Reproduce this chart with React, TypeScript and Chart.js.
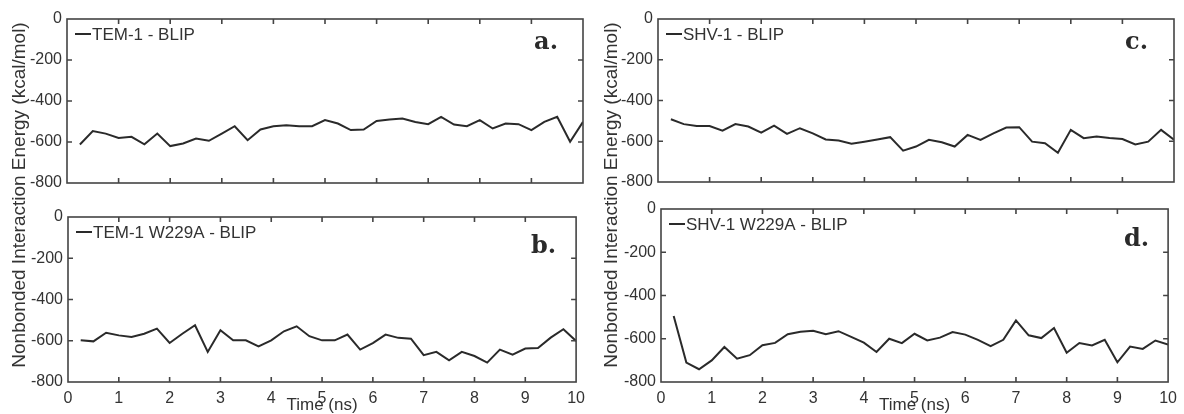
import React, { useEffect, useRef } from "react";
import { Chart, registerables } from "chart.js";

Chart.register(...registerables);

// ---- data ----
const timeNs = [
  0.25, 0.5, 0.75, 1, 1.25, 1.5, 1.75, 2, 2.25, 2.5,
  2.75, 3, 3.25, 3.5, 3.75, 4, 4.25, 4.5, 4.75, 5,
  5.25, 5.5, 5.75, 6, 6.25, 6.5, 6.75, 7, 7.25, 7.5,
  7.75, 8, 8.25, 8.5, 8.75, 9, 9.25, 9.5, 9.75, 10,
];

const tem1Blip = [
  -612, -547, -559, -580, -575, -611, -559, -620, -607, -583,
  -594, -559, -523, -591, -539, -523, -518, -523, -523, -493,
  -510, -542, -539, -497, -490, -485, -502, -513, -477, -515,
  -523, -493, -534, -510, -513, -542, -502, -477, -599, -502,
];

const tem1W229ABlip = [
  -598, -603, -561, -574, -582, -566, -541, -611, -566, -525,
  -654, -549, -598, -598, -627, -598, -554, -530, -578, -598,
  -598, -570, -643, -611, -570, -586, -590, -670, -654, -695,
  -654, -674, -706, -643, -667, -638, -635, -585, -544, -601,
];

const shv1Blip = [
  -492, -516, -525, -525, -548, -516, -528, -558, -523, -564,
  -536, -561, -591, -596, -612, -602, -591, -580, -646, -626,
  -593, -605, -626, -569, -593, -561, -533, -531, -602, -610,
  -657, -544, -585, -577, -584, -589, -616, -602, -544, -593,
];

const shv1W229ABlip = [
  -495, -710, -741, -700, -638, -692, -676, -630, -619, -579,
  -568, -563, -579, -565, -591, -618, -661, -600, -620, -577,
  -608, -595, -569, -581, -605, -634, -605, -515, -584, -597,
  -550, -665, -620, -631, -605, -709, -636, -647, -608, -627,
];

const xTickValues = [0, 1, 2, 3, 4, 5, 6, 7, 8, 9, 10];
const yTickValues = [-800, -600, -400, -200, 0];
const xInnerTicks = [1, 2, 3, 4, 5, 6, 7, 8, 9];
const yInnerTicks = [-600, -400, -200];

const xAxisTitle = "Time (ns)";
const yAxisTitle = "Nonbonded Interaction Energy (kcal/mol)";

// ---- styling / layout ----
const COL_W = 592;
const H = 414;
const SANS = '"Liberation Sans", Arial, sans-serif';
const TEXT = "#333333";
const LINE = "#2a2a2a";
const FRAME = "#444444";

type Area = { left: number; top: number; right: number; bottom: number };
type PanelSpec = {
  key: string;
  colX: number;
  area: Area;
  label: string;
  values: number[];
  showX: boolean;
  letter: string;
  letterDx: number;
  letterDy: number;
  yTitle: boolean;
};

const panels: PanelSpec[] = [
  { key: "b", colX: 0, area: { left: 68, top: 217, right: 579, bottom: 382 }, label: "TEM-1 W229A - BLIP", values: tem1W229ABlip, showX: true, letter: "b.", letterDx: 20, letterDy: 36, yTitle: true },
  { key: "a", colX: 0, area: { left: 67, top: 19, right: 583, bottom: 183 }, label: "TEM-1 - BLIP", values: tem1Blip, showX: false, letter: "a.", letterDx: 25, letterDy: 30, yTitle: false },
  { key: "d", colX: 592, area: { left: 69, top: 209, right: 580, bottom: 382 }, label: "SHV-1 W229A - BLIP", values: shv1W229ABlip, showX: true, letter: "d.", letterDx: 19, letterDy: 37, yTitle: true },
  { key: "c", colX: 592, area: { left: 66, top: 19, right: 582, bottom: 182 }, label: "SHV-1 - BLIP", values: shv1Blip, showX: false, letter: "c.", letterDx: 26, letterDy: 30, yTitle: false },
];

// MATLAB-style box, inward ticks, inline legend and panel letter
const framePlugin = {
  id: "matlabFrame",
  afterDatasetsDraw(chart: any, _args: any, opts: any) {
    const { ctx, chartArea, scales } = chart;
    const { left, top, right, bottom } = chartArea;
    const x = scales.x;
    const y = scales.y;
    const L = 5;
    ctx.save();
    ctx.strokeStyle = FRAME;
    ctx.lineWidth = 1.6;
    ctx.strokeRect(left, top, right - left, bottom - top);
    ctx.beginPath();
    for (const v of xInnerTicks) {
      const px = x.getPixelForValue(v);
      ctx.moveTo(px, bottom);
      ctx.lineTo(px, bottom - L);
      ctx.moveTo(px, top);
      ctx.lineTo(px, top + L);
    }
    for (const v of yInnerTicks) {
      const py = y.getPixelForValue(v);
      ctx.moveTo(left, py);
      ctx.lineTo(left + L, py);
      ctx.moveTo(right, py);
      ctx.lineTo(right - L, py);
    }
    ctx.stroke();

    // legend (inside the axes, top-left)
    const ds = chart.data.datasets[0];
    const lx = left + 8;
    const ly = top + 15;
    ctx.strokeStyle = ds.borderColor;
    ctx.lineWidth = ds.borderWidth;
    ctx.beginPath();
    ctx.moveTo(lx, ly);
    ctx.lineTo(lx + 16, ly);
    ctx.stroke();
    ctx.fillStyle = TEXT;
    ctx.font = `17px ${SANS}`;
    ctx.textAlign = "left";
    ctx.textBaseline = "middle";
    ctx.fillText(ds.label, lx + 17, ly + 1);

    if (opts && opts.letter) {
      ctx.fillStyle = "#2a2a2a";
      ctx.font = 'bold 24px "DejaVu Serif", "Liberation Serif", serif';
      ctx.textAlign = "right";
      ctx.textBaseline = "alphabetic";
      ctx.fillText(opts.letter, right - opts.dx, top + opts.dy);
    }
    ctx.restore();
  },
};

const yTitlePlugin = {
  id: "columnYTitle",
  afterDraw(chart: any, _args: any, opts: any) {
    if (!opts || !opts.show) return;
    const ctx = chart.ctx;
    ctx.save();
    ctx.translate(20, 195);
    ctx.rotate(-Math.PI / 2);
    ctx.font = `19px ${SANS}`;
    ctx.fillStyle = TEXT;
    ctx.textAlign = "center";
    ctx.textBaseline = "middle";
    ctx.fillText(yAxisTitle, 0, 0);
    ctx.restore();
  },
};

function buildConfig(p: PanelSpec): any {
  const area = p.area;
  return {
    type: "line",
    data: {
      datasets: [
        {
          label: p.label,
          data: timeNs.map((t, i) => ({ x: t, y: p.values[i] })),
          borderColor: LINE,
          backgroundColor: LINE,
          borderWidth: 2,
          pointRadius: 0,
          tension: 0,
          fill: false,
        },
      ],
    },
    options: {
      responsive: false,
      animation: false,
      devicePixelRatio: 1,
      events: [],
      layout: { padding: { left: 0, top: area.top, right: COL_W - area.right, bottom: 0 } },
      scales: {
        x: {
          type: "linear",
          min: 0,
          max: 10,
          afterBuildTicks: (s: any) => {
            s.ticks = xTickValues.map((v) => ({ value: v }));
          },
          afterFit: (s: any) => {
            s.height = H - area.bottom;
          },
          ticks: {
            display: p.showX,
            autoSkip: false,
            maxRotation: 0,
            padding: 7,
            font: { family: SANS, size: 16 },
            color: TEXT,
          },
          grid: { display: false, drawTicks: false },
          border: { display: false },
          title: {
            display: p.showX,
            text: xAxisTitle,
            font: { family: SANS, size: 17 },
            color: TEXT,
            padding: { top: 0, bottom: -2 },
          },
        },
        y: {
          type: "linear",
          min: -800,
          max: 0,
          afterBuildTicks: (s: any) => {
            s.ticks = yTickValues.map((v) => ({ value: v }));
          },
          afterFit: (s: any) => {
            s.width = area.left;
          },
          ticks: {
            padding: 5,
            font: { family: SANS, size: 16 },
            color: TEXT,
            callback: (v: any) => String(v),
          },
          grid: { display: false, drawTicks: false },
          border: { display: false },
        },
      },
      plugins: {
        legend: { display: false },
        tooltip: { enabled: false },
        title: { display: false },
        matlabFrame: { letter: p.letter, dx: p.letterDx, dy: p.letterDy },
        columnYTitle: { show: p.yTitle },
      },
    },
    plugins: [framePlugin, yTitlePlugin],
  };
}

function Panel({ spec }: { spec: PanelSpec }) {
  const ref = useRef<HTMLCanvasElement>(null);
  useEffect(() => {
    if (!ref.current) return;
    const chart = new Chart(ref.current, buildConfig(spec));
    return () => chart.destroy();
  }, [spec]);
  return (
    <canvas
      ref={ref}
      width={COL_W}
      height={H}
      style={{ position: "absolute", left: spec.colX, top: 0, width: COL_W, height: H }}
    />
  );
}

export default function App() {
  return (
    <div
      style={{
        position: "fixed",
        left: 0,
        top: 0,
        width: 1184,
        height: H,
        background: "#ffffff",
        overflow: "hidden",
      }}
    >
      {panels.map((p) => (
        <Panel key={p.key} spec={p} />
      ))}
    </div>
  );
}
